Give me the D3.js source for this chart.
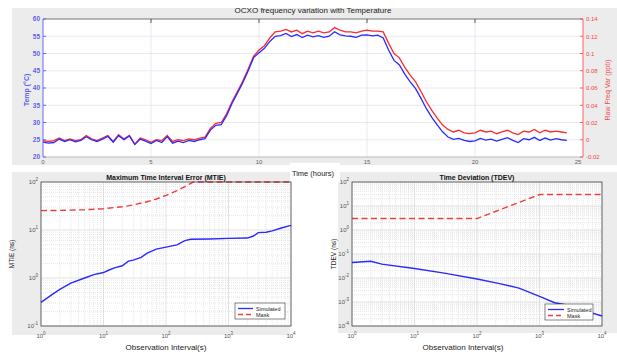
<!DOCTYPE html>
<html>
<head>
<meta charset="utf-8">
<script src="https://cdn.jsdelivr.net/npm/d3@7"></script>
<style>
body{margin:0;background:#fff}
svg{display:block;font-family:"Liberation Sans",Arial,sans-serif}
</style>
</head>
<body>
<svg width="617" height="354"></svg>
<script>
// top chart: time (h), temperature (C), raw freq variation (ppb)
const hours=[0,0.25,0.5,0.75,1,1.25,1.5,1.75,2,2.25,2.5,2.75,3,3.25,3.5,3.75,4,4.25,4.5,4.75,5,5.25,5.5,5.75,6,6.25,6.5,6.75,7,7.25,7.5,7.75,8,8.25,8.5,8.75,9,9.25,9.5,9.75,10,10.25,10.5,10.75,11,11.25,11.5,11.75,12,12.25,12.5,12.75,13,13.25,13.5,13.75,14,14.25,14.5,14.75,15,15.25,15.5,15.75,16,16.25,16.5,16.75,17,17.25,17.5,17.75,18,18.25,18.5,18.75,19,19.25,19.5,19.75,20,20.25,20.5,20.75,21,21.25,21.5,21.75,22,22.25,22.5,22.75,23,23.25,23.5,23.75,24,24.25]
const temp=[24.3,24.0,24.2,25.2,24.5,25.0,24.4,24.8,25.9,25.0,24.5,25.2,26.0,24.3,26.2,25.0,26.1,23.6,25.2,24.6,23.9,24.8,24.2,25.9,24.0,24.6,24.2,24.8,24.5,25.0,25.3,27.8,29.2,29.4,32.0,35.5,38.5,41.5,45.0,48.8,50.2,51.5,53.5,55.0,55.2,55.8,54.9,55.5,54.6,55.3,54.8,55.2,54.7,55.0,56.3,55.4,55.1,55.0,54.7,55.3,55.4,55.1,55.3,54.5,51.0,48.0,46.7,44.0,41.8,39.8,37.0,34.0,31.5,29.3,27.3,25.8,25.1,25.4,24.8,24.5,24.7,25.4,24.9,25.2,24.6,25.1,25.6,24.8,24.2,25.3,25.0,25.7,24.8,25.5,24.9,25.3,25.0,24.8]
const freq=[-0.001,-0.002,-0.001,0.002,-0.001,0.001,-0.001,0.000,0.005,0.001,-0.001,0.002,0.005,-0.002,0.006,0.001,0.005,-0.005,0.002,0.000,-0.003,0.000,-0.001,0.005,-0.002,0.000,-0.001,0.001,0.000,0.002,0.003,0.013,0.019,0.020,0.030,0.044,0.056,0.068,0.082,0.097,0.104,0.109,0.118,0.125,0.126,0.128,0.125,0.127,0.123,0.126,0.124,0.126,0.124,0.125,0.130,0.127,0.125,0.125,0.124,0.126,0.127,0.126,0.126,0.125,0.112,0.100,0.095,0.084,0.075,0.067,0.056,0.044,0.034,0.025,0.017,0.012,0.009,0.011,0.008,0.007,0.008,0.011,0.009,0.010,0.007,0.009,0.011,0.008,0.006,0.010,0.009,0.012,0.008,0.011,0.009,0.010,0.009,0.008]
const hourTicks=[0,5,10,15,20,25]
const tempTicks=[20,25,30,35,40,45,50,55,60]
const freqTicks=[-0.02,0,0.02,0.04,0.06,0.08,0.1,0.12,0.14]

// MTIE
const mtieTau=[1,1.5,2,3,5,7,10,12,15,20,25,30,40,50,70,100,150,200,250,500,1000,2000,2500,3000,4000,5000,7000,10000]
const mtieSim=[0.31,0.45,0.58,0.78,1.0,1.18,1.3,1.45,1.62,1.8,2.25,2.35,2.7,3.3,4.0,4.4,4.9,6.0,6.4,6.5,6.7,6.8,7.5,8.8,9.0,9.6,11.0,12.5]
const mtieMaskTau=[1,2,5,10,20,30,50,70,100,150,200,250,275,10000]
const mtieMask=[25.3,25.6,26.4,27.8,30.5,33.3,38.8,44.3,52.5,66.3,80,93.8,100,100]

// TDEV
const tdevTau=[1,2,3,10,30,100,220,470,1000,1750,2750,5000,10000]
const tdevSim=[0.044,0.05,0.038,0.025,0.016,0.0091,0.006,0.0038,0.0017,0.00093,0.00075,0.00045,0.00026]
const tdevMaskTau=[1,100,1000,10000]
const tdevMask=[3,3,30,30]

const svg=d3.select("svg")
const panel="#ececec"

// backgrounds
svg.append("rect").attr("x",12).attr("y",8).attr("width",605).attr("height",157).attr("fill",panel)
svg.append("rect").attr("x",12).attr("y",172).attr("width",278).attr("height",163).attr("fill",panel)
svg.append("rect").attr("x",338).attr("y",172).attr("width",279).attr("height",161).attr("fill",panel)
svg.append("rect").attr("x",290).attr("y",163).attr("width",50).attr("height",19).attr("fill","#fff")

// ---------- top chart ----------
const x=d3.scaleLinear([0,25],[43,583])
const yT=d3.scaleLinear([20,60],[157,19])
const yF=d3.scaleLinear([-0.02,0.14],[157,19])
const blue="#2a2aff", red="#ff2a2a"

const tg=svg.append("g")
tg.append("rect").attr("x",43).attr("y",19).attr("width",540).attr("height",138).attr("fill","#fff")
tg.selectAll(".hg").data(tempTicks.slice(1,-1)).join("line")
.attr("x1",43).attr("x2",583).attr("y1",d=>yT(d)).attr("y2",d=>yT(d))
.attr("stroke","#e2e2f0").attr("stroke-width",0.8)
tg.selectAll(".vg").data(hourTicks.slice(1,-1)).join("line")
.attr("x1",d=>x(d)).attr("x2",d=>x(d)).attr("y1",19).attr("y2",157)
.attr("stroke","#e2e2f0").attr("stroke-width",0.8)
// top border + ticks
tg.append("line").attr("x1",43).attr("x2",583).attr("y1",19).attr("y2",19).attr("stroke","#555").attr("stroke-width",0.8)
tg.append("line").attr("x1",43).attr("x2",583).attr("y1",157).attr("y2",157).attr("stroke","#aaa").attr("stroke-width",0.8)
tg.selectAll(".tt").data(hourTicks.slice(1,-1)).join("line")
.attr("x1",d=>x(d)).attr("x2",d=>x(d)).attr("y1",19).attr("y2",23).attr("stroke","#333").attr("stroke-width",0.8)

const lineT=d3.line().x((d,i)=>x(hours[i])).y(d=>yT(d))
const lineF=d3.line().x((d,i)=>x(hours[i])).y(d=>yF(d))
tg.append("path").datum(freq).attr("d",lineF).attr("fill","none").attr("stroke",red).attr("stroke-width",1.3)
tg.append("path").datum(temp).attr("d",lineT).attr("fill","none").attr("stroke",blue).attr("stroke-width",1.3)

// left axis (blue)
tg.append("line").attr("x1",43).attr("x2",43).attr("y1",19).attr("y2",157).attr("stroke","#5a5aff").attr("stroke-width",0.9)
tg.selectAll(".lt").data(tempTicks).join("line")
.attr("x1",43).attr("x2",46).attr("y1",d=>yT(d)).attr("y2",d=>yT(d)).attr("stroke","#5a5aff").attr("stroke-width",0.9)
tg.selectAll(".ll").data(tempTicks).join("text")
.attr("x",40).attr("y",d=>yT(d)+2.3).attr("text-anchor","end")
.attr("font-size",6.5).attr("font-weight","bold").attr("fill","#6060e8").text(d=>d)
tg.append("text").attr("transform","translate(29,90) rotate(-90)").attr("text-anchor","middle")
.attr("font-size",7).attr("font-weight","bold").attr("fill","#6060e8").text("Temp (°C)")

// right axis (red)
tg.append("line").attr("x1",583).attr("x2",583).attr("y1",19).attr("y2",157).attr("stroke","#ff5050").attr("stroke-width",0.9)
tg.selectAll(".rt").data(freqTicks).join("line")
.attr("x1",580).attr("x2",583).attr("y1",d=>yF(d)).attr("y2",d=>yF(d)).attr("stroke","#ff5050").attr("stroke-width",0.9)
tg.selectAll(".rl").data(freqTicks).join("text")
.attr("x",586).attr("y",d=>yF(d)+2.3)
.attr("font-size",6).attr("fill","#f04848").text(d=>d)
tg.append("text").attr("transform","translate(610,90) rotate(-90)").attr("text-anchor","middle")
.attr("font-size",7).attr("fill","#f04848").text("Raw Freq Var (ppb)")

// x labels
tg.selectAll(".xl").data(hourTicks).join("text")
.attr("x",d=>x(d)-(d==25?5:0)).attr("y",164).attr("text-anchor","middle")
.attr("font-size",6).attr("fill","#666").text(d=>d)
svg.append("text").attr("x",313).attr("y",12.5).attr("text-anchor","middle")
.attr("font-size",8).attr("fill","#222").text("OCXO frequency variation with Temperature")
svg.append("text").attr("x",313).attr("y",176).attr("text-anchor","middle")
.attr("font-size",7.5).attr("fill","#222").text("Time (hours)")

// ---------- log-log charts ----------
function logChart(o){
const g=svg.append("g")
const sx=d3.scaleLog([1,1e4],[o.x0,o.x1])
const sy=d3.scaleLog([o.ymin,o.ymax],[o.y1,o.y0])
g.append("rect").attr("x",o.x0).attr("y",o.y0).attr("width",o.x1-o.x0).attr("height",o.y1-o.y0).attr("fill","#fff")
const minor=[], minorY=[]
for(let e=0;e<4;e++) for(let k=2;k<10;k++) minor.push(k*Math.pow(10,e))
const ey0=Math.round(Math.log10(o.ymin)), ey1=Math.round(Math.log10(o.ymax))
for(let e=ey0;e<ey1;e++) for(let k=2;k<10;k++) minorY.push(k*Math.pow(10,e))
const majX=[1,10,100,1000,10000], majY=d3.range(ey0,ey1+1).map(e=>Math.pow(10,e))
g.selectAll(".mx").data(minor).join("line")
.attr("x1",d=>sx(d)).attr("x2",d=>sx(d)).attr("y1",o.y0).attr("y2",o.y1)
.attr("stroke","#cfcfcf").attr("stroke-width",0.5).attr("stroke-dasharray","1,1")
g.selectAll(".my").data(minorY).join("line")
.attr("y1",d=>sy(d)).attr("y2",d=>sy(d)).attr("x1",o.x0).attr("x2",o.x1)
.attr("stroke","#cfcfcf").attr("stroke-width",0.5).attr("stroke-dasharray","1,1")
g.selectAll(".gx").data(majX).join("line")
.attr("x1",d=>sx(d)).attr("x2",d=>sx(d)).attr("y1",o.y0).attr("y2",o.y1)
.attr("stroke","#d6d6d6").attr("stroke-width",0.7)
g.selectAll(".gy").data(majY).join("line")
.attr("y1",d=>sy(d)).attr("y2",d=>sy(d)).attr("x1",o.x0).attr("x2",o.x1)
.attr("stroke","#d6d6d6").attr("stroke-width",0.7)

const ln=(t)=>d3.line().x((d,i)=>sx(t[i])).y(d=>sy(d))
g.append("path").datum(o.sim).attr("d",ln(o.simTau)).attr("fill","none").attr("stroke",blue).attr("stroke-width",1.4)
g.append("path").datum(o.mask).attr("d",ln(o.maskTau)).attr("fill","none").attr("stroke","#f03c3c").attr("stroke-width",1.4).attr("stroke-dasharray","6,3.5")

g.append("rect").attr("x",o.x0).attr("y",o.y0).attr("width",o.x1-o.x0).attr("height",o.y1-o.y0)
.attr("fill","none").attr("stroke","#333").attr("stroke-width",0.7)

const sup=(sel,e)=>{sel.append("tspan").text("10");sel.append("tspan").attr("dy",-3).attr("font-size",4.5).text(e)}
g.selectAll(".xt").data(majX).join("text")
.attr("x",d=>sx(d)).attr("y",o.y1+12).attr("text-anchor","middle").attr("font-size",6).attr("fill","#555")
.each(function(d){sup(d3.select(this),Math.round(Math.log10(d)))})
g.selectAll(".yt").data(majY).join("text")
.attr("x",o.x0-3).attr("y",d=>sy(d)+2).attr("text-anchor","end").attr("font-size",6).attr("fill","#555")
.each(function(d){sup(d3.select(this),Math.round(Math.log10(d)))})

g.append("text").attr("x",(o.x0+o.x1)/2).attr("y",o.y0-2).attr("text-anchor","middle")
.attr("font-size",7).attr("font-weight","bold").attr("fill","#111").text(o.title)
g.append("text").attr("transform",`translate(${o.ylx},${(o.y0+o.y1)/2}) rotate(-90)`).attr("text-anchor","middle")
.attr("font-size",6.5).attr("fill","#222").text(o.ylabel)
g.append("text").attr("x",o.xlx).attr("y",350).attr("text-anchor","middle")
.attr("font-size",8).attr("fill","#222").text("Observation Interval(s)")

// legend
const L=o.leg
g.append("rect").attr("x",L[0]).attr("y",L[1]).attr("width",L[2]).attr("height",16).attr("fill","#fff").attr("stroke","#333").attr("stroke-width",0.6)
g.append("line").attr("x1",L[0]+3).attr("x2",L[0]+L[3]).attr("y1",L[1]+5.5).attr("y2",L[1]+5.5).attr("stroke",blue).attr("stroke-width",1.3)
g.append("line").attr("x1",L[0]+3).attr("x2",L[0]+L[3]).attr("y1",L[1]+11.5).attr("y2",L[1]+11.5).attr("stroke","#f03c3c").attr("stroke-width",1.3).attr("stroke-dasharray","5,3")
g.append("text").attr("x",L[0]+L[3]+3).attr("y",L[1]+7.5).attr("font-size",5.5).attr("fill","#222").text("Simulated")
g.append("text").attr("x",L[0]+L[3]+3).attr("y",L[1]+13.5).attr("font-size",5.5).attr("fill","#222").text("Mask")
}

logChart({x0:41,x1:291,y0:182,y1:326,ymin:0.1,ymax:100,
simTau:mtieTau,sim:mtieSim,maskTau:mtieMaskTau,mask:mtieMask,
title:"Maximum Time Interval Error (MTIE)",ylabel:"MTIE (ns)",ylx:14,xlx:166,leg:[235,303,50,18]})
logChart({x0:352,x1:602,y0:182,y1:326,ymin:1e-4,ymax:100,
simTau:tdevTau,sim:tdevSim,maskTau:tdevMaskTau,mask:tdevMask,
title:"Time Deviation (TDEV)",ylabel:"TDEV (ns)",ylx:336,xlx:463,leg:[545,304,48,19]})
</script>
</body>
</html>
